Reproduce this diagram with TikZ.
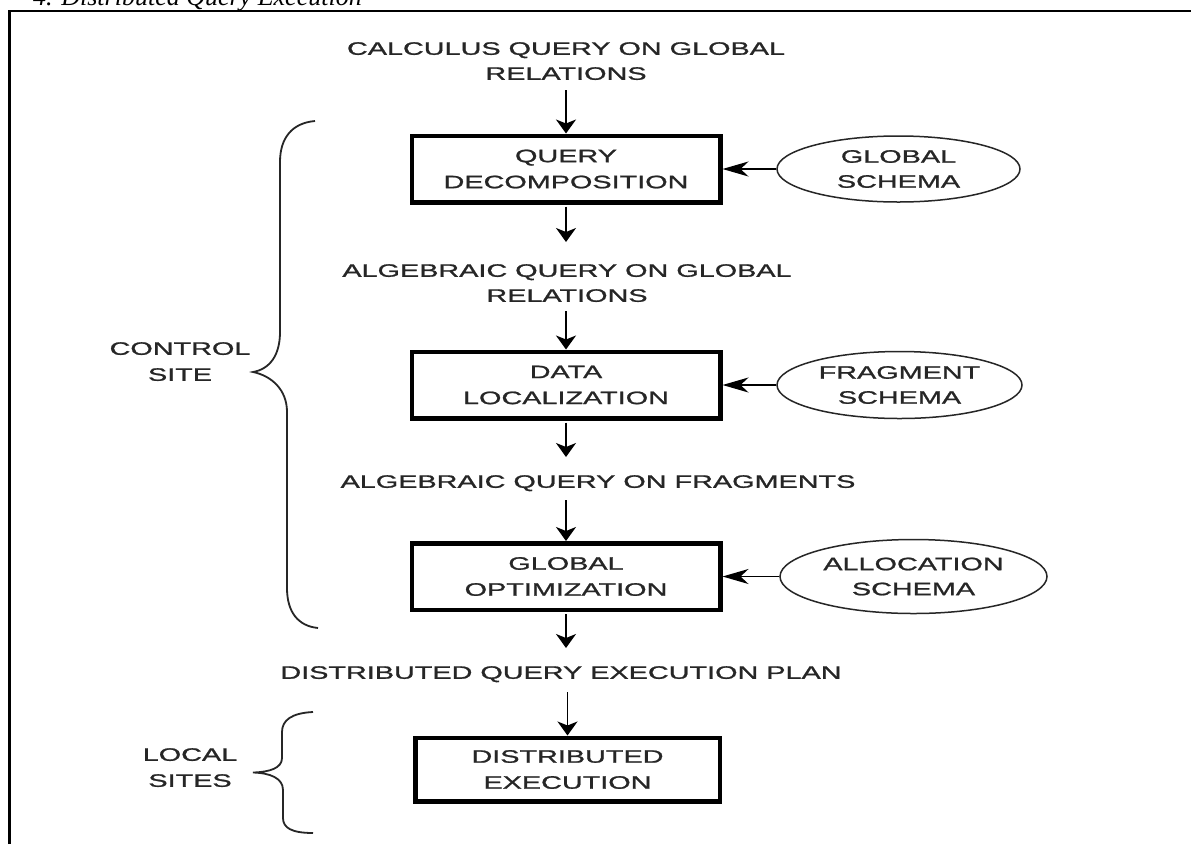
\documentclass[tikz,border=0pt]{standalone}
\usepackage{fontspec}
\setmainfont{Liberation Sans}
\newfontfamily\diagfont[FakeStretch=1.6,FakeBold=1.2]{Liberation Sans}
\newfontfamily\titlefont{Liberation Serif}
\usetikzlibrary{shapes.geometric,arrows.meta}
\tikzset{
  lbl/.style={font=\diagfont\fontsize{18}{25}\selectfont, text=black!85, align=center, inner sep=0pt},
  sidelbl/.style={font=\diagfont\fontsize{18}{26}\selectfont, text=black!85, align=center, inner sep=0pt},
  procbox/.style={draw=black, line width=4.5pt, minimum width=308.5pt, minimum height=66.5pt, inner sep=0pt,
    font=\diagfont\fontsize{18}{26}\selectfont, text=black!85, align=center},
  schema/.style={ellipse, draw=black!85, line width=1.5pt, inner sep=0pt,
    font=\diagfont\fontsize{18}{25}\selectfont, text=black!85, align=center},
  varr/.style={line width=1.6pt, -{Stealth[length=14pt,width=20pt,inset=4pt]}},
  harr/.style={line width=1.6pt, -{Stealth[length=26pt,width=15pt,inset=8pt]}},
  bracepath/.style={line width=1.8pt, black!85},
}
\begin{document}
\begin{tikzpicture}[x=1pt,y=-1pt]
\useasboundingbox (0,0) rectangle (1191,844);
\fill[white] (0,0) rectangle (1191,844);
% frame
\draw[line width=2.5pt] (9.7,844) -- (9.7,11.2) -- (1191,11.2);
% title (cut off at top, as in the reference)
\node[anchor=base west, inner sep=0pt, font=\titlefont\itshape\fontsize{26}{30}\selectfont] (title) at (33,5) {4. Distributed Query Execution};

% flow texts
\node[lbl, anchor=north] (t1) at (566,42) {CALCULUS QUERY ON GLOBAL\\RELATIONS};
\node[procbox] (b1) at (566,169) {QUERY\\DECOMPOSITION};
\node[lbl, anchor=north] (t2) at (567,264) {ALGEBRAIC QUERY ON GLOBAL\\RELATIONS};
\node[procbox] (b2) at (566,385) {DATA\\LOCALIZATION};
\node[lbl, anchor=north] (t3) at (598,475) {ALGEBRAIC QUERY ON FRAGMENTS};
\node[procbox] (b3) at (566,576.5) {GLOBAL\\OPTIMIZATION};
\node[lbl, anchor=north] (t4) at (561,666) {DISTRIBUTED QUERY EXECUTION PLAN};
\node[procbox, minimum width=304.5pt, minimum height=63.5pt] (b4) at (567.5,769.5) {DISTRIBUTED\\EXECUTION};

% schemas
\node[schema, minimum width=243pt, minimum height=66pt] (e1) at (898.5,169) {GLOBAL\\SCHEMA};
\node[schema, minimum width=245pt, minimum height=67pt] (e2) at (899.5,385) {FRAGMENT\\SCHEMA};
\node[schema, minimum width=267pt, minimum height=74pt] (e3) at (913.5,576.5) {ALLOCATION\\SCHEMA};

% side labels
\node[sidelbl, anchor=north] (cs) at (180,342) {CONTROL\\SITE};
\node[sidelbl, anchor=north] (ls) at (190,748) {LOCAL\\SITES};

% vertical arrows
\draw[varr, shorten <=10pt] (t1.south -| b1.north) -- (b1.north);
\draw[varr, shorten <=2pt, shorten >=22pt] (b1.south) -- (t2.north -| b1.south);
\draw[varr, shorten <=9pt] (t2.south -| b2.north) -- (b2.north);
\draw[varr, shorten <=2pt, shorten >=18pt] (b2.south) -- (t3.north -| b2.south);
\draw[varr, shorten <=9pt] (t3.south -| b3.north) -- (b3.north);
\draw[varr, shorten <=2pt, shorten >=18pt] (b3.south) -- (t4.north -| b3.south);
\draw[varr, shorten <=10pt] (t4.south -| b4.north) -- (b4.north);

% schema arrows
\draw[harr] (e1.west) -- (b1.east);
\draw[harr] (e2.west) -- (b2.east);
\draw[harr] (e3.west) -- (b3.east);

% braces
\draw[bracepath] (315,121) .. controls (292,123) and (280,138) .. (280,162) -- (280,332)
  .. controls (280,355) and (270,369) .. (253,372)
  .. controls (272,376) and (287,390) .. (287,412) -- (287,588)
  .. controls (287,612) and (298,626) .. (318,628);
\draw[bracepath] (313,712) .. controls (292,713) and (282,720) .. (282,732) -- (282,758)
  .. controls (282,768) and (270,772) .. (253,772.5)
  .. controls (270,773) and (283,778) .. (283,790) -- (283,818)
  .. controls (283,828) and (292,833) .. (313,833);
\end{tikzpicture}
\end{document}
